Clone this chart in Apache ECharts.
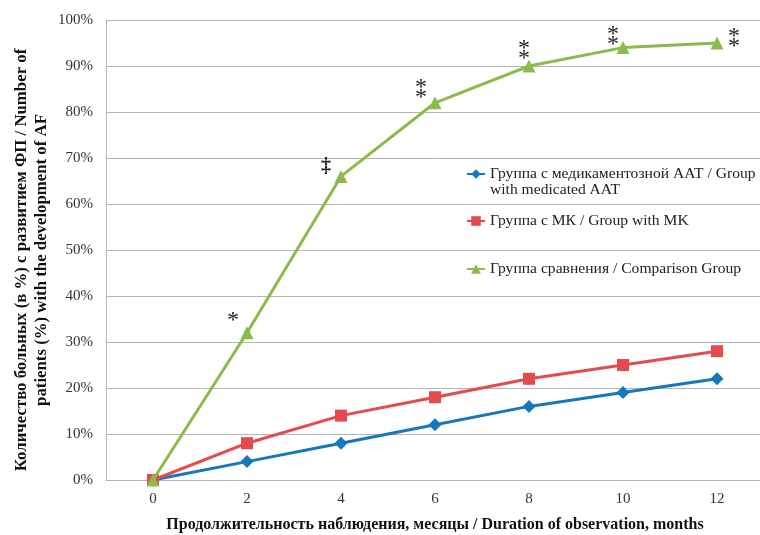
<!DOCTYPE html>
<html>
<head>
<meta charset="utf-8">
<script src="https://cdn.jsdelivr.net/npm/echarts@6/dist/echarts.min.js"></script>
<style>
  html, body { margin: 0; padding: 0; background: #fff; }
  #chart { width: 760px; height: 535px; }
</style>
</head>
<body>
<div id="chart"></div>
<script>
// Follow-up time points (months)
const months = ['0', '2', '4', '6', '8', '10', '12'];

// Share of patients with AF development, %
const medicatedAAT = [0, 4, 8, 12, 16, 19, 22];
const mkGroup = [0, 8, 14, 18, 22, 25, 28];
const comparisonGroup = [0, 32, 66, 82, 90, 94, 95];

// Significance marks next to the comparison group points
const significance = ['', '*', '‡', '*\n*', '*\n*', '*\n*', '*\n*'];

const seriesNames = [
  'Группа с медикаментозной ААТ / Group\nwith medicated AAT',
  'Группа с МК / Group with MK',
  'Группа сравнения / Comparison Group'
];

const yTitle = 'Количество больных (в %) с развитием ФП / Number of\npatients (%) with the development of AF';
const xTitle = 'Продолжительность наблюдения, месяцы / Duration of observation, months';

// placement of the significance marks relative to each point centre (dx, dy in px)
const markOffsets = [[0, 0], [-14, -12], [-15, -10], [-14, -10], [-5, -12], [-10, -8], [17, -1]];

const serif = '"Liberation Serif", "Times New Roman", serif';
const blue = '#1677be';
const red = '#e34b4f';
const green = '#8cba4c';
const gridGrey = '#b5b5b5';

const greenData = comparisonGroup.map((v, i) => {
  const dagger = significance[i] === '‡';
  return {
    value: v,
    label: {
      show: significance[i] !== '',
      formatter: significance[i],
      position: 'inside',
      align: 'center',
      verticalAlign: 'middle',
      offset: markOffsets[i],
      fontFamily: serif,
      fontSize: dagger ? 20 : 24,
      fontWeight: dagger ? 'bold' : 'normal',
      lineHeight: dagger ? 20 : 10,
      padding: dagger ? 0 : [10, 0, 0, 0],
      color: '#222'
    }
  };
});

const chart = echarts.init(document.getElementById('chart'), null, { renderer: 'canvas' });

function legendFor(idx, top, extra) {
  return Object.assign({
    show: true,
    data: [seriesNames[idx]],
    left: 461,
    top: top,
    orient: 'vertical',
    itemWidth: 18,
    itemHeight: 12,
    itemGap: 0,
    selectedMode: false,
    textStyle: {
      fontFamily: serif,
      fontSize: 15.6,
      color: '#222',
      lineHeight: 16
    }
  }, extra || {});
}

chart.setOption({
  backgroundColor: '#ffffff',
  animation: false,
  // the plot runs slightly past the right edge of the canvas
  grid: { left: 106, right: -4, top: 20, bottom: 55, containLabel: false, outerBoundsMode: 'none' },
  legend: [
    // blank leading line keeps the marker level with the first text line
    legendFor(0, 145, { formatter: name => '\n' + name }),
    legendFor(1, 208),
    legendFor(2, 256)
  ],
  xAxis: {
    type: 'category',
    data: months,
    boundaryGap: true,
    axisLine: { lineStyle: { color: gridGrey, width: 1 } },
    axisTick: { show: false },
    axisLabel: { fontFamily: serif, fontSize: 15, color: '#333', margin: 12 },
    name: xTitle,
    nameLocation: 'middle',
    nameGap: 37,
    nameMoveOverlap: false,
    nameTextStyle: { fontFamily: serif, fontSize: 16, fontWeight: 'bold', color: '#111' }
  },
  yAxis: {
    type: 'value',
    min: 0,
    max: 100,
    interval: 10,
    axisLine: { show: true, lineStyle: { color: gridGrey, width: 1 } },
    axisTick: { show: false },
    splitLine: { lineStyle: { color: gridGrey, width: 1 } },
    axisLabel: { formatter: '{value}%', fontFamily: serif, fontSize: 15, color: '#333', margin: 13 },
    name: yTitle,
    nameLocation: 'middle',
    nameRotate: 90,
    nameGap: 54,
    nameMoveOverlap: false,
    nameTextStyle: {
      fontFamily: serif, fontSize: 16.8, fontWeight: 'bold', color: '#111', lineHeight: 20,
      padding: [0, 20, 0, 0]
    }
  },
  series: [
    {
      name: seriesNames[0],
      type: 'line',
      data: medicatedAAT,
      symbol: 'diamond',
      symbolSize: 13,
      lineStyle: { color: blue, width: 3 },
      itemStyle: { color: blue },
      z: 3
    },
    {
      name: seriesNames[1],
      type: 'line',
      data: mkGroup,
      symbol: 'rect',
      symbolSize: 12,
      lineStyle: { color: red, width: 3 },
      itemStyle: { color: red },
      z: 4
    },
    {
      name: seriesNames[2],
      type: 'line',
      data: greenData,
      symbol: 'triangle',
      symbolSize: 13,
      lineStyle: { color: green, width: 3 },
      itemStyle: { color: green },
      z: 5
    }
  ]
});
</script>
</body>
</html>
